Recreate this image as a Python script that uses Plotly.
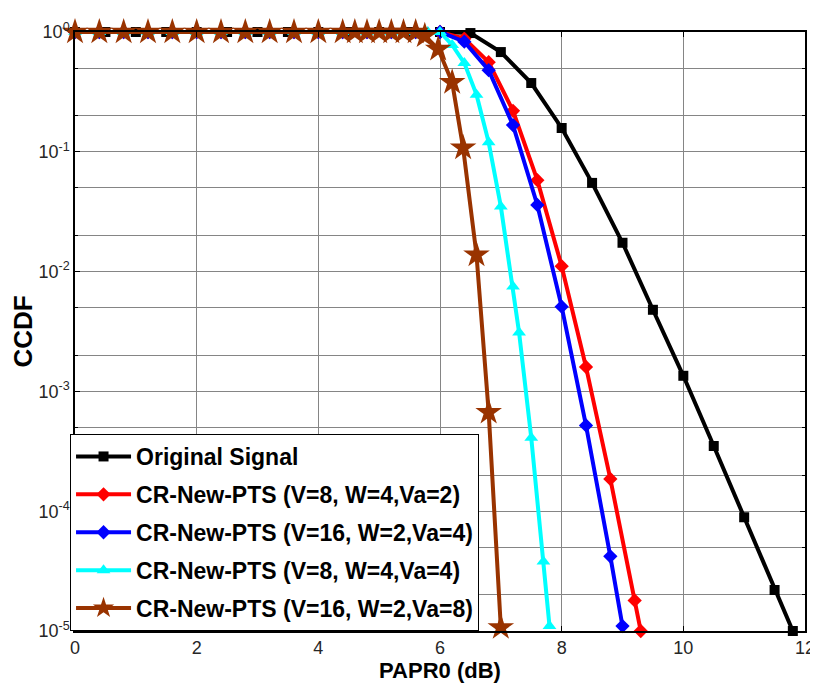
import plotly.graph_objects as go

# ---------------- data ----------------
x_orig = [0, 0.5, 1, 1.5, 2, 2.5, 3, 3.5, 4, 4.5, 5, 5.5, 6, 6.5, 7, 7.5, 8, 8.5, 9, 9.5, 10, 10.5, 11, 11.5, 11.8]
y_orig = [1, 1, 1, 1, 1, 1, 1, 1, 1, 1, 1, 1, 1, 0.98, 0.68, 0.375, 0.158, 0.055, 0.0174, 0.0048, 0.00135, 3.5e-4, 8.9e-5, 2.2e-5, 1.0e-5]

x_red = [0, 0.4, 0.8, 1.2, 1.6, 2.0, 2.4, 2.8, 3.2, 3.6, 4.0, 4.4, 4.8, 5.2, 5.6, 6.0, 6.4, 6.8, 7.2, 7.6, 8.0, 8.4, 8.8, 9.2, 9.3]
y_red = [1, 1, 1, 1, 1, 1, 1, 1, 1, 1, 1, 1, 1, 1, 1, 1, 0.88, 0.56, 0.22, 0.058, 0.0111, 0.0016, 1.86e-4, 1.8e-5, 1.0e-5]

x_blue = [0, 0.4, 0.8, 1.2, 1.6, 2.0, 2.4, 2.8, 3.2, 3.6, 4.0, 4.4, 4.8, 5.2, 5.6, 6.0, 6.4, 6.8, 7.2, 7.6, 8.0, 8.4, 8.8, 9.0]
y_blue = [1, 1, 1, 1, 1, 1, 1, 1, 1, 1, 1, 1, 1, 1, 1, 1, 0.83, 0.48, 0.167, 0.036, 0.0051, 5.2e-4, 4.2e-5, 1.1e-5]

x_cyan = [0, 0.4, 0.8, 1.2, 1.6, 2.0, 2.4, 2.8, 3.2, 3.6, 4.0, 4.4, 4.8, 5.2, 5.6, 5.8, 6.0, 6.2, 6.4, 6.6, 6.8, 7.0, 7.2, 7.3, 7.5, 7.7, 7.8]
y_cyan = [1, 1, 1, 1, 1, 1, 1, 1, 1, 1, 1, 1, 1, 1, 1, 1, 1, 0.78, 0.55, 0.30, 0.12, 0.035, 0.0075, 0.0031, 4.1e-4, 3.8e-5, 1.1e-5]

x_brown = [0, 0.4, 0.8, 1.2, 1.6, 2.0, 2.4, 2.8, 3.2, 3.6, 4.0, 4.4, 4.6, 4.8, 5.0, 5.2, 5.4, 5.6, 5.75, 5.97, 6.2, 6.38, 6.6, 6.8, 7.0]
y_brown = [1, 1, 1, 1, 1, 1, 1, 1, 1, 1, 1, 1, 1, 1, 1, 1, 1, 1, 0.93, 0.72, 0.38, 0.108, 0.0138, 6.7e-4, 1.07e-5]

names = [
    "Original Signal",
    "CR-New-PTS (V=8, W=4,Va=2)",
    "CR-New-PTS (V=16, W=2,Va=4)",
    "CR-New-PTS (V=8, W=4,Va=4)",
    "CR-New-PTS (V=16, W=2,Va=8)",
]

y_tickvals = [1e-5, 1e-4, 1e-3, 1e-2, 1e-1, 1]
y_ticktext = ["10<sup>-5</sup>", "10<sup>-4</sup>", "10<sup>-3</sup>", "10<sup>-2</sup>", "10<sup>-1</sup>", "10<sup>0</sup>"]
x_tickvals = [0, 2, 4, 6, 8, 10, 12]

# ---------------- styling ----------------
SANS = "Liberation Sans, Arial, sans-serif"
series = [
    (x_orig, y_orig, "#000000", "square", 10),
    (x_red, y_red, "#FF0000", "diamond", 11),
    (x_blue, y_blue, "#0000FF", "diamond", 11),
    (x_cyan, y_cyan, "#00FFFF", "triangle-up", 12),
    (x_brown, y_brown, "#993300", "star", 20),
]

fig = go.Figure()
for i, (xs, ys, col, sym, sz) in enumerate(series):
    fig.add_trace(go.Scatter(
        x=xs, y=ys, name=names[i], mode="lines+markers",
        line=dict(color=col, width=4),
        marker=dict(symbol=sym, size=sz, color=col, line=dict(width=0)),
        cliponaxis=False, legendgroup=str(i),
    ))

grid_col = "#858585"
# page body has an 8px default margin, so the figure is sized/offset to compensate
fig.update_layout(
    width=810, height=685,
    margin=dict(l=67, r=13, t=24, b=62, autoexpand=False),
    paper_bgcolor="white", plot_bgcolor="white",
    showlegend=True,
    legend=dict(
        x=-0.0068, y=0, xanchor="left", yanchor="bottom",
        bgcolor="white", bordercolor="black", borderwidth=1,
        font=dict(family=SANS, size=23, color="black", weight="bold"),
        tracegroupgap=5, itemwidth=55,
    ),
    xaxis=dict(
        range=[0, 12], tickvals=x_tickvals, automargin=False,
        showgrid=True, gridcolor=grid_col, gridwidth=1,
        showline=True, linecolor="black", linewidth=1.5, mirror="ticks",
        ticks="inside", ticklen=5, tickcolor="black",
        tickfont=dict(family=SANS, size=18, color="#262626"),
        title=dict(text="PAPR0 (dB)", font=dict(family=SANS, size=22, color="black", weight="bold"), standoff=5),
        zeroline=False,
    ),
    yaxis=dict(
        type="log", range=[-5, 0], automargin=False,
        tickvals=y_tickvals, ticktext=y_ticktext,
        showgrid=True, gridcolor=grid_col, gridwidth=1,
        minor=dict(showgrid=True, gridcolor=grid_col, gridwidth=1, ticks="inside", ticklen=3, tickcolor="black"),
        showline=True, linecolor="black", linewidth=1.5, mirror="ticks",
        ticks="inside", ticklen=5, tickcolor="black",
        tickfont=dict(family=SANS, size=18, color="#262626"),
        title=dict(text="CCDF", font=dict(family=SANS, size=26, color="black", weight="bold"), standoff=12),
        zeroline=False,
    ),
)

fig.write_html("out.html")
